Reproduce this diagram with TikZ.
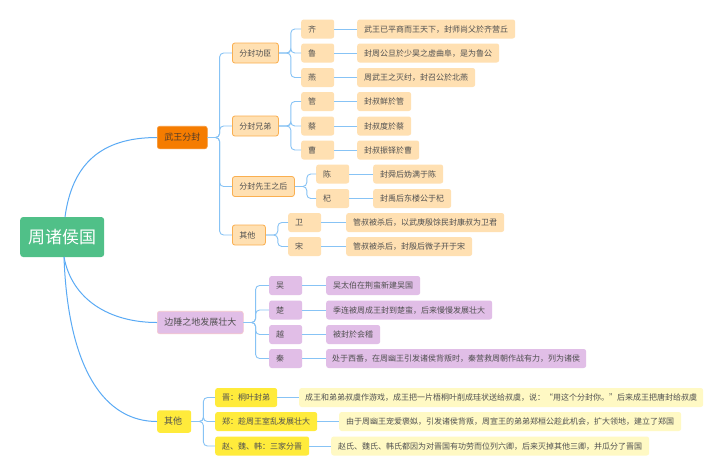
\documentclass[tikz,border=0pt]{standalone}
\usepackage{fontspec}
\setmainfont{Noto Sans CJK SC}
\definecolor{txt}{RGB}{80,80,80}
\definecolor{txtd}{RGB}{85,60,40}
\definecolor{rootg}{RGB}{80,192,136}
\definecolor{org}{RGB}{245,124,0}
\definecolor{ofill}{RGB}{255,224,178}
\definecolor{oline}{RGB}{250,175,80}
\definecolor{pfill}{RGB}{225,190,231}
\definecolor{pline}{RGB}{245,200,205}
\definecolor{yel}{RGB}{255,235,59}
\definecolor{ylight}{RGB}{255,249,196}
\definecolor{linec}{RGB}{90,170,245}
\definecolor{lineb}{RGB}{135,195,245}
\begin{document}
\begin{tikzpicture}[x=1pt,y=-1pt,
 conn/.style={draw=lineb, line width=0.9pt, rounded corners=4pt},
 curv/.style={draw=linec, line width=1pt},
 base/.style={anchor=west, rounded corners=2.5pt, inner ysep=0pt, inner xsep=7pt, text=txt},
 sz8/.style={font=\fontsize{8}{9}\selectfont, text height=7pt, text depth=1pt, minimum height=19pt},
 sz8b/.style={font=\fontsize{8}{9}\selectfont, text height=7pt, text depth=1pt, minimum height=20pt},
 sz9/.style={font=\fontsize{9}{10}\selectfont, text height=7.9pt, text depth=1.1pt, minimum height=22.5pt},
 one/.style={text width=19pt, align=left},
 rootbox/.style={base, fill=rootg, text=white, inner xsep=8pt, rounded corners=3pt, font=\fontsize{17}{19}\selectfont, text height=15pt, text depth=2pt, minimum height=40pt},
 lA/.style={base, sz9, fill=org, draw=org!80!white, line width=0.6pt, text=txtd},
 lB/.style={base, sz8b, fill=ofill, draw=oline, line width=0.8pt},
 lC/.style={base, sz8, fill=ofill},
 pA/.style={base, sz9, fill=pfill, draw=pline, line width=0.6pt},
 pC/.style={base, sz8, fill=pfill},
 yA/.style={base, sz9, fill=yel},
 yC/.style={base, sz8, fill=yel},
 yD/.style={base, sz8, fill=ylight}
]
\useasboundingbox (0,0) rectangle (720,475);
\fill[white] (0,0) rectangle (720,475);

% root
\node[rootbox] (root) at (20,237) {周诸侯国};

% level 1
\node[lA] (wf) at (157,137.5) {武王分封};
\node[pA] (bc) at (157,322.5) {边陲之地发展壮大};
\node[yA, text width=20pt, align=left] (qt) at (157,421.5) {其他};

% level 2 (orange)
\node[lB] (gc) at (232,53) {分封功臣};
\node[lB] (xd) at (232,126) {分封兄弟};
\node[lB] (xw) at (232,186.5) {分封先王之后};
\node[lB, one] (qo) at (232,235) {其他};

% level 3 (orange)
\node[lC, one] (qi) at (301,29) {齐};
\node[lC, one] (lu) at (301,53) {鲁};
\node[lC, one] (yan) at (301,77.5) {燕};
\node[lC, one] (guan) at (301,101.5) {管};
\node[lC, one] (cai) at (301,126) {蔡};
\node[lC, one] (cao) at (301,150) {曹};
\node[lC, one] (chen) at (316,174) {陈};
\node[lC, one] (qi2) at (316,198.5) {杞};
\node[lC, one] (wei) at (288,222.5) {卫};
\node[lC, one] (song) at (288,246.5) {宋};

% level 4 (orange)
\node[lC] (qiD) at (357,29) {武王已平商而王天下，封师尚父於齐营丘};
\node[lC] (luD) at (357,53) {封周公旦於少昊之虚曲阜，是为鲁公};
\node[lC] (yanD) at (357,77.5) {周武王之灭纣，封召公於北燕};
\node[lC] (guanD) at (357,101.5) {封叔鲜於管};
\node[lC] (caiD) at (357,126) {封叔度於蔡};
\node[lC] (caoD) at (357,150) {封叔振铎於曹};
\node[lC] (chenD) at (373,174) {封舜后妫满于陈};
\node[lC] (qi2D) at (373,198.5) {封禹后东楼公于杞};
\node[lC] (weiD) at (346,222.5) {管叔被杀后，以武庚殷馀民封康叔为卫君};
\node[lC] (songD) at (346,246.5) {管叔被杀后，封殷后微子开于宋};

% purple
\node[pC, one] (wu) at (269,285.5) {吴};
\node[pC, one] (chu) at (269,310) {楚};
\node[pC, one] (yue) at (269,334.5) {越};
\node[pC, one] (qin) at (269,358.5) {秦};
\node[pC] (wuD) at (326,285.5) {吴太伯在荆蛮新建吴国};
\node[pC] (chuD) at (326,310) {季连被周成王封到楚蛮，后来慢慢发展壮大};
\node[pC] (yueD) at (326,334.5) {被封於会稽};
\node[pC, inner xsep=6pt] (qinD) at (326,358.5) {处于西番，在周幽王引发诸侯背叛时，秦营救周朝作战有力，列为诸侯};

% yellow
\node[yC] (jin) at (215,397.5) {晋：桐叶封弟};
\node[yC] (zheng) at (215,421.5) {郑：趁周王室乱发展壮大};
\node[yC] (zhao) at (215,446) {赵、魏、韩：三家分晋};
\node[yD, inner xsep=6pt] (jinD) at (299,397.5) {成王和弟弟叔虞作游戏，成王把一片梧桐叶削成珪状送给叔虞，说：“用这个分封你。”后来成王把唐封给叔虞};
\node[yD] (zhengD) at (339,421.5) {由于周幽王宠爱褒姒，引发诸侯背叛，周宣王的弟弟郑桓公趁此机会，扩大领地，建立了郑国};
\node[yD] (zhaoD) at (331,446) {赵氏、魏氏、韩氏都因为对晋国有功劳而位列六卿，后来灭掉其他三卿，并瓜分了晋国};

% root curves
\coordinate (rt) at (65,217);
\coordinate (rb) at (64,257);
\draw[curv] (rt) .. controls (72,165) and (100,137.5) .. (wf.west);
\draw[curv] (rb) .. controls (72,300) and (110,322.5) .. (bc.west);
\draw[curv] (rb) .. controls (68,370) and (105,421.5) .. (qt.west);

% elbows
\foreach \c in {gc,xd,xw,qo} \draw[conn] (wf.east) -- ++(12,0) |- (\c.west);
\foreach \c in {qi,lu,yan} \draw[conn] (gc.east) -- ++(12,0) |- (\c.west);
\foreach \c in {guan,cai,cao} \draw[conn] (xd.east) -- ++(12,0) |- (\c.west);
\foreach \c in {chen,qi2} \draw[conn] (xw.east) -- ++(12,0) |- (\c.west);
\foreach \c in {wei,song} \draw[conn] (qo.east) -- ++(12,0) |- (\c.west);
\foreach \c in {wu,chu,yue,qin} \draw[conn] (bc.east) -- ++(12,0) |- (\c.west);
\foreach \c in {jin,zheng,zhao} \draw[conn] (qt.east) -- ++(12,0) |- (\c.west);

% level3 -> level4
\foreach \a/\b in {qi/qiD,lu/luD,yan/yanD,guan/guanD,cai/caiD,cao/caoD,chen/chenD,qi2/qi2D,wei/weiD,song/songD,wu/wuD,chu/chuD,yue/yueD,qin/qinD,jin/jinD,zheng/zhengD,zhao/zhaoD}
  \draw[conn] (\a.east) -- (\b.west);
\end{tikzpicture}
\end{document}
